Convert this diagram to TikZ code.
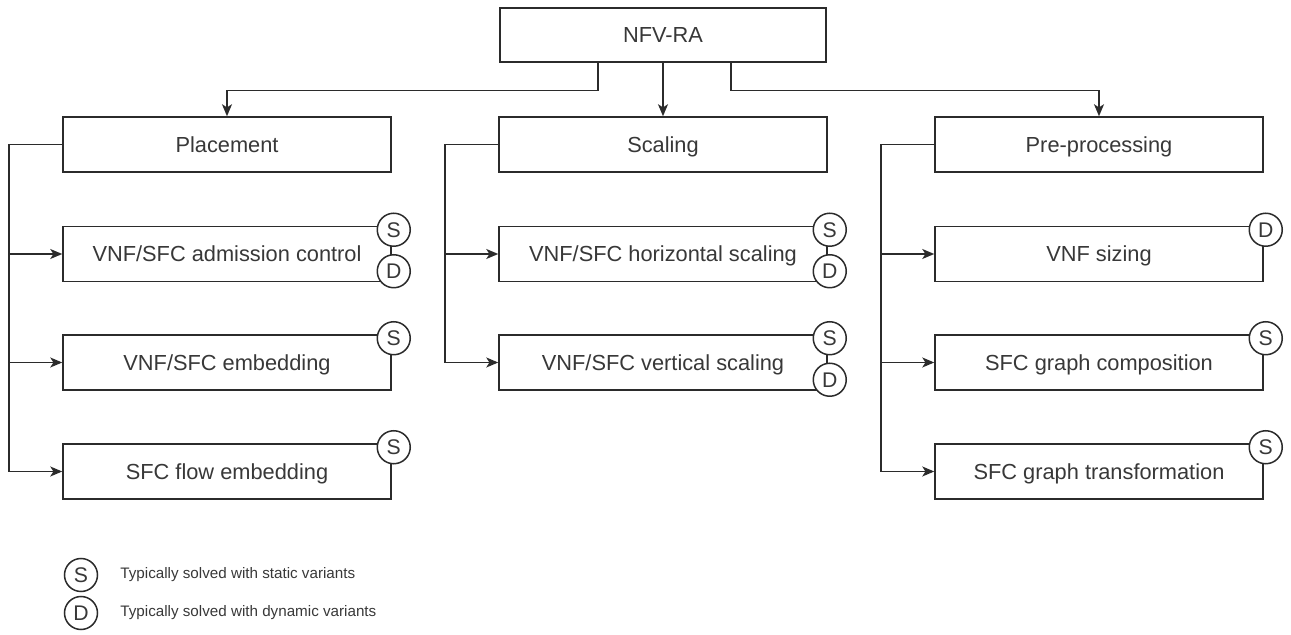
\documentclass[tikz,border=0pt]{standalone}
\usepackage{fontspec}
\setmainfont{Liberation Sans}
\usetikzlibrary{arrows.meta}
\definecolor{linec}{HTML}{2B2B2B}
\definecolor{textc}{HTML}{383838}
\begin{document}
\begin{tikzpicture}[x=0.5pt,y=-0.5pt,
  box/.style={draw=linec, line width=0.75pt, fill=white, minimum width=164pt,
    minimum height=27.5pt, inner sep=0pt, text=textc,
    text height=10pt, text depth=2.2pt,
    font=\fontsize{10.9pt}{12pt}\selectfont},
  badge/.style={circle, draw=linec, line width=0.75pt, fill=white,
    minimum size=16.5pt, inner sep=0pt, text=textc,
    text height=9.8pt, text depth=2.2pt,
    font=\fontsize{10.6pt}{12pt}\selectfont},
  arr/.style={draw=linec, line width=0.75pt,
    -{Stealth[length=6pt,width=5pt,inset=1.6pt]}},
  legendtext/.style={anchor=west, inner sep=0pt, text=textc,
    font=\fontsize{7.6pt}{9pt}\selectfont}]
\useasboundingbox (0,0) rectangle (1291,635);

% root
\node[box, minimum width=163pt, minimum height=27pt] (root) at (663,35) {NFV-RA};

% first level
\node[box] (pl) at (227,144.5) {Placement};
\node[box] (sc) at (663,144.5) {Scaling};
\node[box] (pp) at (1099,144.5) {Pre-processing};

% placement children
\node[box] (pl1) at (227,254)   {VNF/SFC admission control};
\node[box] (pl2) at (227,362.5) {VNF/SFC embedding};
\node[box] (pl3) at (227,471.5) {SFC flow embedding};

% scaling children
\node[box] (sc1) at (663,254)   {VNF/SFC horizontal scaling};
\node[box] (sc2) at (663,362.5) {VNF/SFC vertical scaling};

% pre-processing children
\node[box] (pp1) at (1099,254)   {VNF sizing};
\node[box] (pp2) at (1099,362.5) {SFC graph composition};
\node[box] (pp3) at (1099,471.5) {SFC graph transformation};

% root to first level
\draw[arr] ([shift={(-65,0)}]root.south) -- ++(0,28) -| (pl.north);
\draw[arr] (root.south) -- (sc.north);
\draw[arr] ([shift={(68,0)}]root.south) -- ++(0,28) -| (pp.north);

% bus lines to children
\coordinate (plbus) at (9,144.5);
\coordinate (scbus) at (445,144.5);
\coordinate (ppbus) at (881,144.5);
\foreach \c in {pl1,pl2,pl3} \draw[arr] (pl.west) -- (plbus) |- (\c.west);
\foreach \c in {sc1,sc2} \draw[arr] (sc.west) -- (scbus) |- (\c.west);
\foreach \c in {pp1,pp2,pp3} \draw[arr] (pp.west) -- (ppbus) |- (\c.west);

% solution-variant badges
\node[badge] (pl1s) at ([shift={(2,4)}]pl1.north east) {S};
\node[badge] (pl1d) at ([shift={(2,-11)}]pl1.south east) {D};
\node[badge] (pl2s) at ([shift={(2,4)}]pl2.north east) {S};
\node[badge] (pl3s) at ([shift={(2,4)}]pl3.north east) {S};
\node[badge] (sc1s) at ([shift={(2,4)}]sc1.north east) {S};
\node[badge] (sc1d) at ([shift={(2,-11)}]sc1.south east) {D};
\node[badge] (sc2s) at ([shift={(2,4)}]sc2.north east) {S};
\node[badge] (sc2d) at ([shift={(2,-11)}]sc2.south east) {D};
\node[badge] (pp1d) at ([shift={(2,4)}]pp1.north east) {D};
\node[badge] (pp2s) at ([shift={(2,4)}]pp2.north east) {S};
\node[badge] (pp3s) at ([shift={(2,4)}]pp3.north east) {S};

% legend
\node[badge] (ls) at (81,575) {S};
\node[badge] (ld) at (81,613) {D};
\node[legendtext] (lst) at (120,575) {Typically solved with static variants};
\node[legendtext] (ldt) at (120,613) {Typically solved with dynamic variants};
\end{tikzpicture}
\end{document}
